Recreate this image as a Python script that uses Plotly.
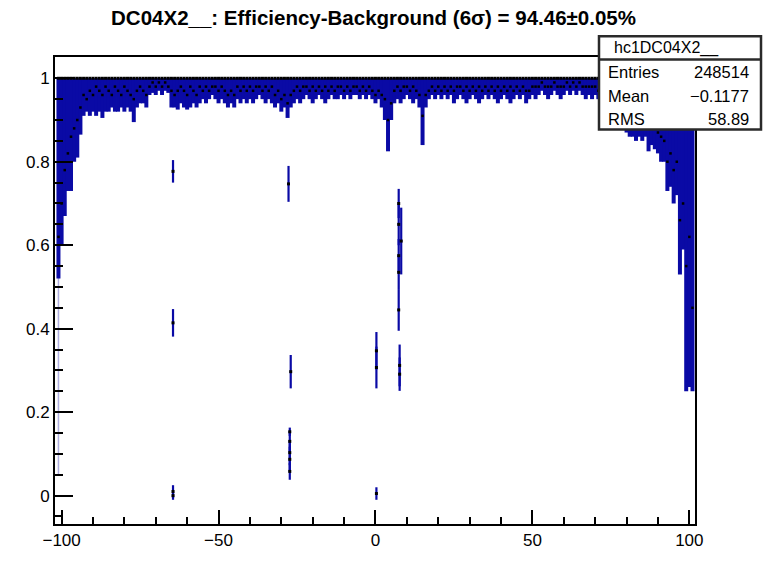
import plotly.graph_objects as go

# ---------------- data ----------------
channels = list(range(-101, 102))

# lowest extent of the efficiency band per channel (band reaches up to 1.0)
band_low = [
    0.52, 0.60, 0.67, 0.73, 0.73, 0.80, 0.81, 0.865, 0.91, 0.92,   # -101..-92
    0.91, 0.92, 0.91, 0.92, 0.905, 0.92, 0.92, 0.93, 0.92, 0.92,   # -91..-82
    0.93, 0.92, 0.93, 0.92, 0.895, 0.93, 0.94, 0.94, 0.93, 0.96,   # -81..-72
    0.965, 0.96, 0.97, 0.96, 0.97, 0.965, 0.93, 0.93, 0.925, 0.94, # -71..-62
    0.93, 0.925, 0.93, 0.94, 0.93, 0.94, 0.95, 0.94, 0.95, 0.96,   # -61..-52
    0.95, 0.94, 0.95, 0.94, 0.93, 0.94, 0.93, 0.95, 0.94, 0.95,    # -51..-42
    0.94, 0.95, 0.94, 0.95, 0.96, 0.95, 0.94, 0.95, 0.94, 0.93,    # -41..-32
    0.94, 0.92, 0.93, 0.905, 0.93, 0.94, 0.95, 0.94, 0.95, 0.96,   # -31..-22
    0.95, 0.94, 0.95, 0.96, 0.95, 0.94, 0.95, 0.96, 0.95, 0.95,    # -21..-12
    0.96, 0.95, 0.96, 0.95, 0.96, 0.96, 0.95, 0.96, 0.95, 0.96,    # -11..-2
    0.95, 0.94, 0.95, 0.93, 0.90, 0.825, 0.90, 0.94, 0.95, 0.94,   # -1..8
    0.95, 0.96, 0.95, 0.94, 0.95, 0.93, 0.84, 0.93, 0.95, 0.96,    # 9..18
    0.95, 0.96, 0.95, 0.96, 0.95, 0.96, 0.94, 0.95, 0.96, 0.95,    # 19..28
    0.94, 0.95, 0.96, 0.95, 0.94, 0.95, 0.96, 0.95, 0.96, 0.95,    # 29..38
    0.94, 0.95, 0.96, 0.95, 0.94, 0.95, 0.96, 0.95, 0.96, 0.94,    # 39..48
    0.95, 0.96, 0.95, 0.96, 0.97, 0.96, 0.95, 0.96, 0.97, 0.96,    # 49..58
    0.95, 0.96, 0.97, 0.96, 0.97, 0.96, 0.97, 0.96, 0.95, 0.96,    # 59..68
    0.95, 0.96, 0.95, 0.94, 0.93, 0.92, 0.93, 0.91, 0.92, 0.90,    # 69..78
    0.89, 0.87, 0.86, 0.86, 0.85, 0.86, 0.85, 0.86, 0.825, 0.84,   # 79..88
    0.83, 0.82, 0.80, 0.80, 0.73, 0.74, 0.70, 0.72, 0.53, 0.59,    # 89..98
    0.25, 0.26, 0.25,                                              # 99..101
]
band_top = 1.0

# black measurement markers seen inside the band, per channel
band_mark = [
    0.62, 0.70, 0.78, 0.82, 0.86, 0.88, 0.90, 0.93, 0.96, 0.95,    # -101..-92
    0.97, 0.96, 0.98, 0.97, 0.96, 0.98, 0.97, 0.96, 0.98, 0.97,    # -91..-82
    0.96, 0.98, 0.97, 0.96, 0.95, 0.97, 0.98, 0.97, 0.96, 0.98,    # -81..-72
    0.99, 0.98, 0.99, 0.98, 0.99, 0.98, 0.97, 0.96, 0.97, 0.98,    # -71..-62
    0.97, 0.96, 0.98, 0.97, 0.96, 0.98, 0.97, 0.98, 0.97, 0.98,    # -61..-52
    0.98, 0.97, 0.98, 0.97, 0.96, 0.97, 0.96, 0.98, 0.97, 0.98,    # -51..-42
    0.97, 0.98, 0.97, 0.98, 0.98, 0.97, 0.98, 0.97, 0.98, 0.96,    # -41..-32
    0.97, 0.95, 0.96, 0.94, 0.96, 0.97, 0.98, 0.97, 0.98, 0.98,    # -31..-22
    0.97, 0.98, 0.97, 0.98, 0.97, 0.98, 0.97, 0.98, 0.97, 0.98,    # -21..-12
    0.98, 0.97, 0.98, 0.97, 0.98, 0.98, 0.97, 0.98, 0.97, 0.98,    # -11..-2
    0.97, 0.96, 0.97, 0.96, 0.95, 0.90, 0.94, 0.97, 0.98, 0.97,    # -1..8
    0.98, 0.98, 0.97, 0.98, 0.97, 0.96, 0.91, 0.96, 0.97, 0.98,    # 9..18
    0.97, 0.98, 0.97, 0.98, 0.97, 0.98, 0.97, 0.98, 0.98, 0.97,    # 19..28
    0.98, 0.97, 0.98, 0.97, 0.98, 0.97, 0.98, 0.97, 0.98, 0.97,    # 29..38
    0.98, 0.97, 0.98, 0.97, 0.98, 0.97, 0.98, 0.97, 0.98, 0.97,    # 39..48
    0.97, 0.98, 0.98, 0.98, 0.99, 0.98, 0.98, 0.98, 0.99, 0.98,    # 49..58
    0.98, 0.98, 0.99, 0.98, 0.99, 0.98, 0.99, 0.98, 0.98, 0.98,    # 59..68
    0.98, 0.98, 0.97, 0.97, 0.96, 0.96, 0.96, 0.95, 0.95, 0.94,    # 69..78
    0.93, 0.92, 0.92, 0.91, 0.90, 0.91, 0.90, 0.91, 0.88, 0.89,    # 79..88
    0.88, 0.87, 0.86, 0.85, 0.80, 0.82, 0.78, 0.80, 0.66, 0.70,    # 89..98
    0.55, 0.62, 0.45,                                              # 99..101
]

# isolated low-efficiency points (x, efficiency, error)
out_x = [-64.5, -64.5, -64.5, -64.5, -27.7, -27.0, -27.3, -27.3, -27.3, -27.3, -27.3,
         0.3, 0.3, 0.3, 7.4, 7.4, 7.4, 7.4, 7.4, 8.2, 7.7, 7.7]
out_y = [0.777, 0.414, 0.010, 0.000, 0.747, 0.297, 0.153, 0.130, 0.103, 0.087, 0.058,
         0.347, 0.307, 0.005, 0.700, 0.650, 0.575, 0.535, 0.445, 0.610, 0.312, 0.291]
out_err = [0.027, 0.033, 0.015, 0.010, 0.043, 0.040, 0.010, 0.025, 0.030, 0.030, 0.020,
           0.045, 0.050, 0.015, 0.035, 0.050, 0.040, 0.040, 0.050, 0.080, 0.050, 0.040]

edge_x = [-101]
edge_y = [0.30]
edge_err = [0.25]

x_ticks = [-100, -50, 0, 50, 100]
y_ticks = [0, 0.2, 0.4, 0.6, 0.8, 1]

title_text = "<b>DC04X2__: Efficiency-Background (6σ) = 94.46±0.05%</b>"
stats_name = "hc1DC04X2__"
stats_rows = [("Entries", "248514"), ("Mean", "\u22120.1177"), ("RMS", "58.89")]

# ---------------- figure ----------------
W, H = 769, 562
L, R, T, B = 55, 695, 57, 528   # plot-area pixel bounds
BLUE = "rgb(10,10,165)"

fig = go.Figure()

fig.add_trace(go.Scatter(
    x=edge_x, y=edge_y, mode="markers",
    marker=dict(color="rgba(0,0,0,0)", size=1),
    error_y=dict(type="data", array=edge_err, color="rgba(120,120,200,0.6)",
                 thickness=1.5, width=0),
    showlegend=False, hoverinfo="skip"))

fig.add_trace(go.Scatter(
    x=channels, y=[band_top for _ in channels], mode="markers",
    marker=dict(color="black", size=3, symbol="square"),
    error_y=dict(type="data", symmetric=False,
                 array=[0 for _ in channels],
                 arrayminus=[band_top - v for v in band_low],
                 color=BLUE, thickness=4, width=0),
    showlegend=False, hoverinfo="skip"))

fig.add_trace(go.Scatter(
    x=channels, y=band_mark, mode="markers",
    marker=dict(color="black", size=2.5, symbol="square"),
    showlegend=False, hoverinfo="skip"))

fig.add_trace(go.Scatter(
    x=out_x, y=out_y, mode="markers",
    marker=dict(color="black", size=3, symbol="square"),
    error_y=dict(type="data", array=out_err, color=BLUE, thickness=2.2, width=0),
    showlegend=False, hoverinfo="skip"))

def px(xp):
    return (xp - L) / (R - L)

def py(yp):
    return (B - yp) / (B - T)

# stats box
fig.add_shape(type="rect", xref="paper", yref="paper",
              x0=px(599), x1=px(761), y0=py(130), y1=py(36),
              line=dict(color="#2a2a2a", width=2.5), fillcolor="white", layer="above")
fig.add_shape(type="line", xref="paper", yref="paper",
              x0=px(599), x1=px(761), y0=py(59.5), y1=py(59.5),
              line=dict(color="#2a2a2a", width=2.5), layer="above")

FONT = "Liberation Sans, Arial, Helvetica, sans-serif"
fig.add_annotation(xref="paper", yref="paper", x=px(666), y=py(48),
                   text=stats_name, showarrow=False, xanchor="center", yanchor="middle",
                   font=dict(family=FONT, size=16, color="black"))
row_y = [72.5, 96, 120]
for (lab, val), yy in zip(stats_rows, row_y):
    fig.add_annotation(xref="paper", yref="paper", x=px(606), y=py(yy),
                       text=lab, showarrow=False, xanchor="left", yanchor="middle",
                       font=dict(family=FONT, size=16.5, color="black"))
    fig.add_annotation(xref="paper", yref="paper", x=px(751), y=py(yy),
                       text=val, showarrow=False, xanchor="right", yanchor="middle",
                       font=dict(family=FONT, size=16.5, color="black"))

fig.update_layout(
    width=W, height=H,
    margin=dict(l=L, r=W - R, t=T, b=H - B, pad=0),
    paper_bgcolor="white", plot_bgcolor="white",
    title=dict(text=title_text, x=373.5 / W, xanchor="center", xref="container",
               y=1 - 18 / H, yanchor="middle", yref="container",
               font=dict(family=FONT, size=20.5, color="black")),
    font=dict(family=FONT, size=17, color="black"),
    showlegend=False,
)

fig.update_xaxes(
    range=[-102.1, 101.8], tickvals=x_ticks, ticks="inside", ticklen=14, tickwidth=2,
    tickcolor="black", showline=True, linecolor="black", linewidth=2, mirror=True,
    showgrid=False, zeroline=False, tickfont=dict(size=17),
    minor=dict(dtick=10, ticks="inside", ticklen=7, tickwidth=1.5, tickcolor="black",
               showgrid=False),
)
fig.update_yaxes(
    range=[-0.068, 1.051], tickvals=y_ticks, ticks="inside", ticklen=18, tickwidth=2,
    tickcolor="black", showline=True, linecolor="black", linewidth=2, mirror=True,
    showgrid=False, zeroline=False, tickfont=dict(size=17),
    minor=dict(dtick=0.05, ticks="inside", ticklen=8, tickwidth=1.5, tickcolor="black",
               showgrid=False),
)

fig.write_html("out.html")
